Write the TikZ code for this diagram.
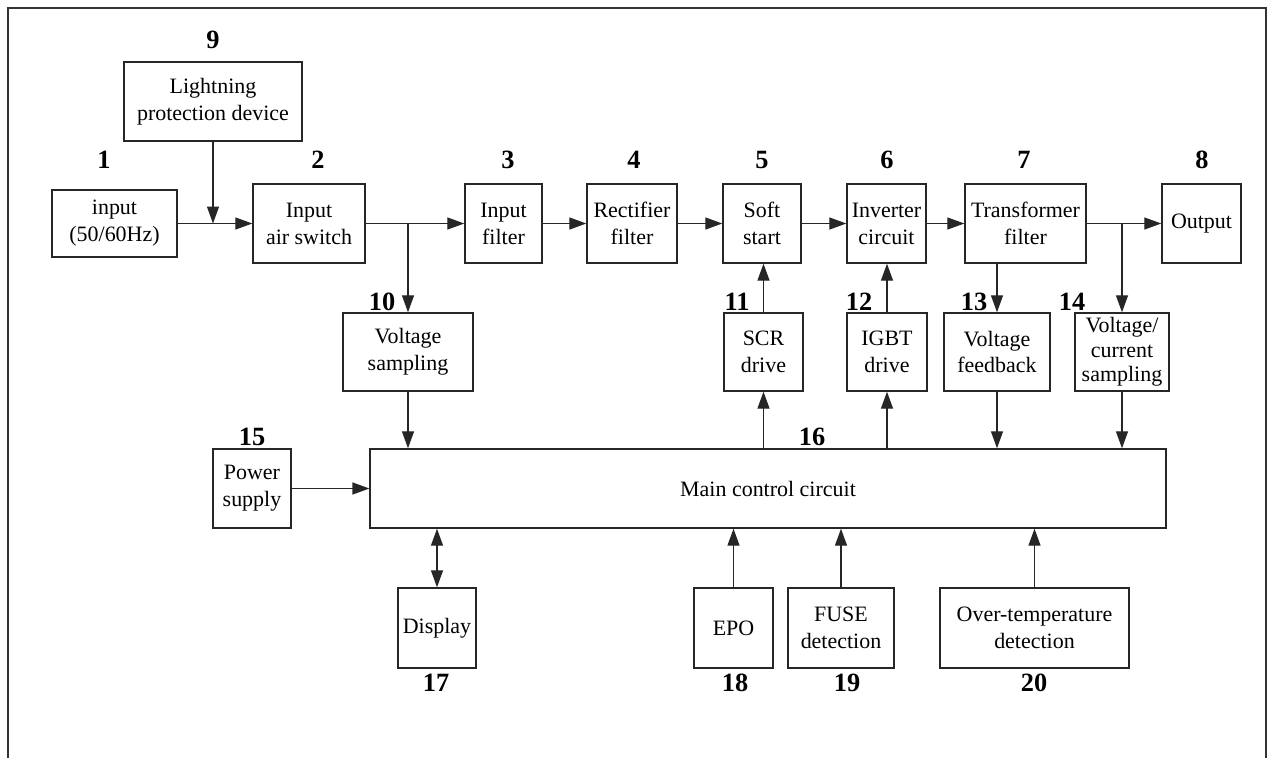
\documentclass[tikz,border=0pt]{standalone}
\usepackage{fontspec}
\setmainfont{Liberation Serif}
\usepackage{tikz}
\usetikzlibrary{calc,positioning,arrows.meta}

\begin{document}
\begin{tikzpicture}[
    x=0.02cm, y=-0.02cm,
    block/.style={rectangle, draw=black!85, line width=0.8pt, minimum height=1.58cm, align=center, inner sep=1pt, font=\fontsize{12.5}{15.3}\selectfont},
    num/.style={inner sep=0pt, font=\fontsize{15}{15}\selectfont\bfseries},
    arrow/.style={-{Triangle[length=0.34cm, width=0.24cm]}, line width=0.75pt, draw=black!85},
    darrow/.style={{Triangle[length=0.34cm, width=0.24cm]}-{Triangle[length=0.34cm, width=0.24cm]}, line width=0.75pt, draw=black!85}
]
    \useasboundingbox (0,0) rectangle (1272,758);
    \draw[line width=1pt, black!80] (8,758) -- (8,8) -- (1266,8) -- (1266,758);

    \node[block, minimum width=2.5cm, minimum height=1.34cm] (in) at (114.5,223.5) {input\\(50/60Hz)};
    \node[block, minimum width=3.56cm] (lpd) at (213,101.5) {Lightning\\protection device};
    \node[block, minimum width=2.24cm] (sw) at (309,223.5) {Input\\air switch};
    \node[block, minimum width=1.54cm] (ifil) at (503.5,223.5) {Input\\filter};
    \node[block, minimum width=1.8cm] (rect) at (632,223.5) {Rectifier\\filter};
    \node[block, minimum width=1.56cm] (soft) at (762,223.5) {Soft\\start};
    \node[block, minimum width=1.58cm] (inv) at (886.5,223.5) {Inverter\\circuit};
    \node[block, minimum width=2.42cm] (tf) at (1025.5,223.5) {Transformer\\filter};
    \node[block, minimum width=1.58cm] (out) at (1201.5,223.5) {Output};

    \node[block, minimum width=2.6cm, minimum height=1.56cm] (vs) at (408,352) {Voltage\\sampling};
    \node[block, minimum width=1.58cm, minimum height=1.56cm] (scr) at (763.5,352) {SCR\\drive};
    \node[block, minimum width=1.6cm, minimum height=1.56cm] (igbt) at (887,352) {IGBT\\drive};
    \node[block, minimum width=2.12cm, minimum height=1.56cm] (vf) at (997,352) {Voltage\\feedback};
    \node[block, minimum width=1.88cm, minimum height=1.56cm, inner sep=0pt, font=\fontsize{12.5}{14}\selectfont] (vc) at (1122,352) {Voltage/\\current\\sampling};

    \node[block, minimum width=1.56cm] (ps) at (252,488.5) {Power\\supply};
    \node[block, minimum width=15.92cm] (mcc) at (768,488.5) {Main control circuit};

    \node[block, minimum width=1.56cm, minimum height=1.6cm] (dsp) at (437,628) {Display};
    \node[block, minimum width=1.58cm, minimum height=1.6cm] (epo) at (733.5,628) {EPO};
    \node[block, minimum width=2.12cm, minimum height=1.6cm] (fuse) at (841,628) {FUSE\\detection};
    \node[block, minimum width=3.78cm, minimum height=1.6cm] (otd) at (1034.5,628) {Over-temperature\\detection};

    \node[num] (n9) at (213,40) {9};
    \node[num] (n1) at (104,160) {1};
    \node[num] (n2) at (318,160) {2};
    \node[num] (n3) at (508,160) {3};
    \node[num] (n4) at (634,160) {4};
    \node[num] (n5) at (762,160) {5};
    \node[num] (n6) at (887,160) {6};
    \node[num] (n7) at (1024,160) {7};
    \node[num] (n8) at (1202,160) {8};
    \node[num] (n10) at (382,302) {10};
    \node[num] (n11) at (737,302) {11};
    \node[num] (n12) at (859,302) {12};
    \node[num] (n13) at (974,302) {13};
    \node[num] (n14) at (1072,302) {14};
    \node[num] (n15) at (252,437) {15};
    \node[num] (n16) at (812,437) {16};
    \node[num] (n17) at (436,683) {17};
    \node[num] (n18) at (735,683) {18};
    \node[num] (n19) at (847,683) {19};
    \node[num] (n20) at (1034,683) {20};

    \draw[arrow] (in) -- (sw);
    \draw[arrow] (lpd.south) -- (lpd.south |- in.east);
    \draw[arrow] (sw) -- (ifil);
    \draw[arrow] (vs.north |- sw.east) -- (vs.north);
    \draw[arrow] (ifil) -- (rect);
    \draw[arrow] (rect) -- (soft);
    \draw[arrow] (soft) -- (inv);
    \draw[arrow] (inv) -- (tf);
    \draw[arrow] (tf) -- (out);
    \draw[arrow] (vf.north |- tf.south) -- (vf.north);
    \draw[arrow] (vc.north |- tf.east) -- (vc.north);

    \draw[arrow] (scr.north) -- (scr.north |- soft.south);
    \draw[arrow] (igbt.north) -- (igbt.north |- inv.south);
    \draw[arrow] (scr.south |- mcc.north) -- (scr.south);
    \draw[arrow] (igbt.south |- mcc.north) -- (igbt.south);
    \draw[arrow] (vs.south) -- (vs.south |- mcc.north);
    \draw[arrow] (vf.south) -- (vf.south |- mcc.north);
    \draw[arrow] (vc.south) -- (vc.south |- mcc.north);
    \draw[arrow] (ps.east) -- (ps.east -| mcc.west);

    \draw[darrow] (dsp.north |- mcc.south) -- (dsp.north);
    \draw[arrow] (epo.north) -- (epo.north |- mcc.south);
    \draw[arrow] (fuse.north) -- (fuse.north |- mcc.south);
    \draw[arrow] (otd.north) -- (otd.north |- mcc.south);
\end{tikzpicture}
\end{document}
